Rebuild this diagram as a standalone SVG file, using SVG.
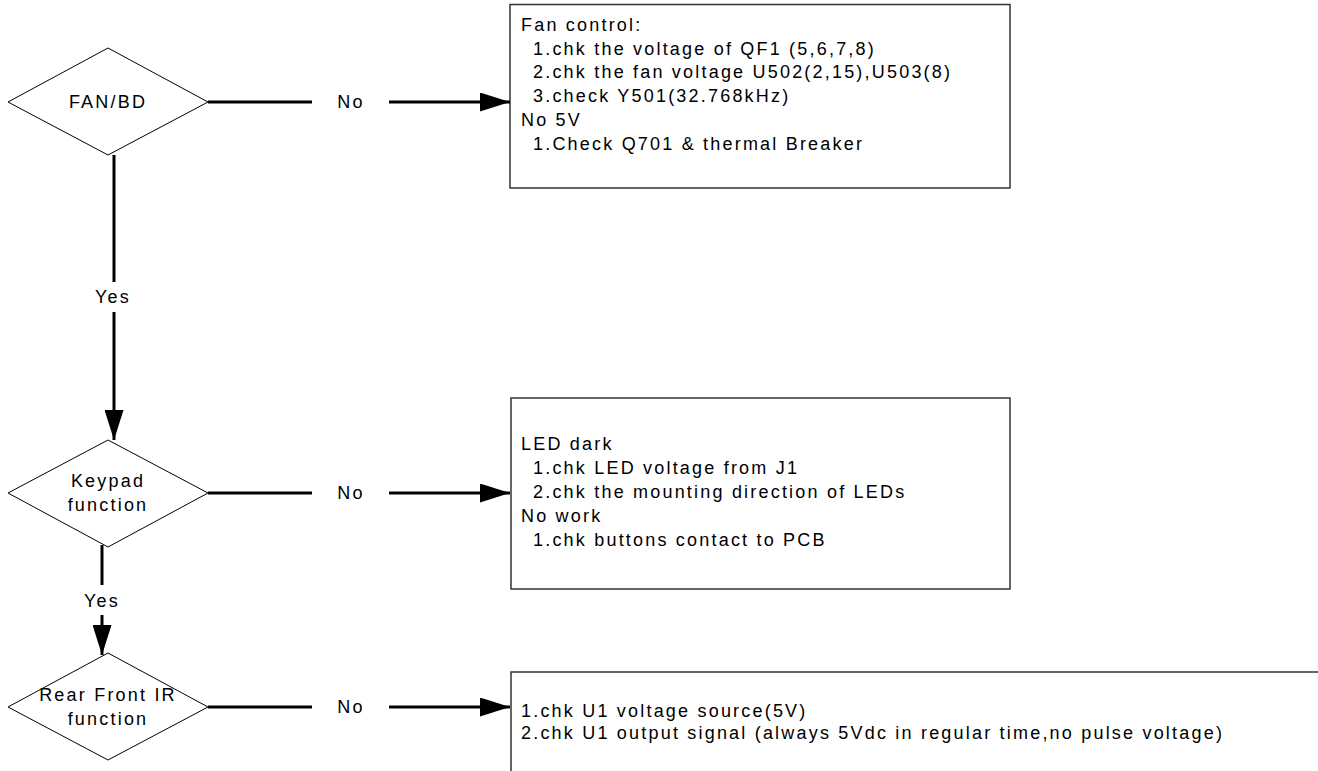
<svg xmlns="http://www.w3.org/2000/svg" width="1318" height="771" viewBox="0 0 1318 771">
  <style>
    text { font-family: "Liberation Sans", Arial, sans-serif; font-size: 18px; letter-spacing: 2.2px; fill: #000; }
    .mid { text-anchor: middle; }
    .decision { fill: #fff; stroke: #000; stroke-width: 1; }
    .note { fill: #fff; stroke: #333; stroke-width: 1.5; }
    .link { fill: none; stroke: #000; stroke-width: 3; }
  </style>
  <defs>
    <marker id="arrow" markerUnits="userSpaceOnUse" markerWidth="30" markerHeight="19" refX="30" refY="9.5" orient="auto">
      <path d="M0,0 L30,9.5 L0,19 Z" fill="#000"/>
    </marker>
  </defs>
  <rect width="1318" height="771" fill="#fff"/>

  <!-- decision: fan board -->
  <g id="fan-bd">
    <polygon class="decision" points="8,102 108,48 208,102 108,155"/>
    <text class="mid" x="108" y="108">FAN/BD</text>
  </g>

  <!-- decision: keypad -->
  <g id="keypad">
    <polygon class="decision" points="8,493 108,440 208,493 108,547"/>
    <text class="mid" x="108" y="487">Keypad</text>
    <text class="mid" x="108" y="511">function</text>
  </g>

  <!-- decision: IR receiver -->
  <g id="rear-front-ir">
    <polygon class="decision" points="8,707 108,653 208,707 108,760"/>
    <text class="mid" x="108" y="701">Rear Front IR</text>
    <text class="mid" x="108" y="725">function</text>
  </g>

  <!-- fan checks -->
  <g id="fan-checks">
    <rect class="note" x="510" y="4.5" width="500" height="183.5"/>
    <text x="521" y="31">Fan control:</text>
    <text x="533" y="55">1.chk the voltage of QF1 (5,6,7,8)</text>
    <text x="533" y="78">2.chk the fan voltage U502(2,15),U503(8)</text>
    <text x="533" y="102">3.check Y501(32.768kHz)</text>
    <text x="521" y="126">No 5V</text>
    <text x="533" y="150">1.Check Q701 &amp; thermal Breaker</text>
  </g>

  <!-- keypad checks -->
  <g id="keypad-checks">
    <rect class="note" x="511" y="398" width="499" height="191"/>
    <text x="521" y="450">LED dark</text>
    <text x="533" y="474">1.chk LED voltage from J1</text>
    <text x="533" y="498">2.chk the mounting direction of LEDs</text>
    <text x="521" y="522">No work</text>
    <text x="533" y="546">1.chk buttons contact to PCB</text>
  </g>

  <!-- IR checks -->
  <g id="ir-checks">
    <rect class="note" x="511" y="672" width="820" height="120"/>
    <text x="521" y="717">1.chk U1 voltage source(5V)</text>
    <text x="521" y="739">2.chk U1 output signal (always 5Vdc in regular time,no pulse voltage)</text>
  </g>

  <!-- connectors -->
  <g id="connectors">
    <line class="link" x1="208" y1="102" x2="312" y2="102"/>
    <line class="link" x1="389" y1="102" x2="510" y2="102" marker-end="url(#arrow)"/>
    <text class="mid" x="351" y="108">No</text>

    <line class="link" x1="114" y1="155" x2="114" y2="282"/>
    <line class="link" x1="114" y1="312" x2="114" y2="440" marker-end="url(#arrow)"/>
    <text class="mid" x="113" y="303">Yes</text>

    <line class="link" x1="208" y1="493" x2="312" y2="493"/>
    <line class="link" x1="389" y1="493" x2="510" y2="493" marker-end="url(#arrow)"/>
    <text class="mid" x="351" y="499">No</text>

    <line class="link" x1="102" y1="545" x2="102" y2="585"/>
    <line class="link" x1="102" y1="615" x2="102" y2="655" marker-end="url(#arrow)"/>
    <text class="mid" x="102" y="607">Yes</text>

    <line class="link" x1="208" y1="707" x2="312" y2="707"/>
    <line class="link" x1="389" y1="707" x2="510" y2="707" marker-end="url(#arrow)"/>
    <text class="mid" x="351" y="713">No</text>
  </g>
</svg>
